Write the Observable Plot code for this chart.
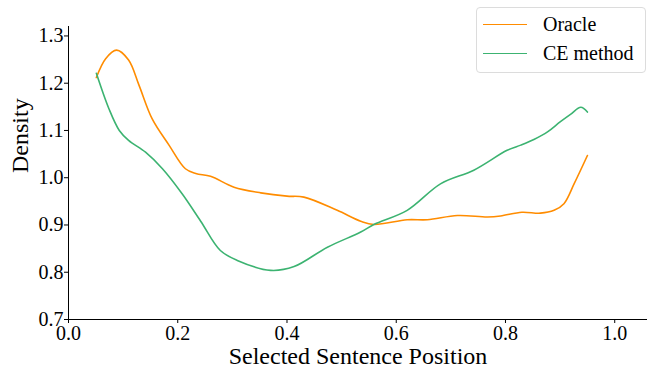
<!DOCTYPE html>
<html>
<head>
<meta charset="utf-8">
<script src="https://cdn.jsdelivr.net/npm/d3@7"></script>
<script src="https://cdn.jsdelivr.net/npm/@observablehq/plot@0.6"></script>
<style>
  html, body { margin: 0; padding: 0; background: #fff; }
  #wrap { position: relative; width: 648px; height: 368px; font-family: "Liberation Serif", "Times New Roman", serif; }
  #plot svg, #plot svg text { font-family: "Liberation Serif", "Times New Roman", serif !important; }
  #legend { position: absolute; left: 476px; top: 7px; width: 170px; height: 66px; border: 1px solid #dcdcdc; border-radius: 4px; background: rgba(255,255,255,0.8); box-sizing: border-box; }
  .item { position: absolute; left: 0; height: 24px; display: flex; align-items: center; font-size: 20px; color: #000; }
  .item .sw { width: 44px; height: 0; border-top: 1.5px solid; margin-left: 6px; margin-right: 16px; }
</style>
</head>
<body>
<div id="wrap">
  <div id="plot"></div>
  <div id="legend"></div>
</div>
<script>
const seriesNames = ["Oracle", "CE method"];
const seriesColors = ["#ff8c00", "#3cb371"];

const oracleX = [0.051, 0.068, 0.088, 0.110, 0.129, 0.153, 0.184, 0.214, 0.233, 0.260, 0.303, 0.352, 0.400, 0.431, 0.492, 0.535, 0.559, 0.620, 0.657, 0.712, 0.767, 0.791, 0.830, 0.864, 0.889, 0.907, 0.926, 0.950];
const oracleY = [1.212, 1.252, 1.270, 1.249, 1.196, 1.125, 1.069, 1.019, 1.009, 1.003, 0.980, 0.968, 0.961, 0.959, 0.931, 0.908, 0.901, 0.911, 0.911, 0.920, 0.917, 0.919, 0.927, 0.925, 0.931, 0.945, 0.988, 1.047];

const ceX = [0.051, 0.074, 0.093, 0.110, 0.141, 0.172, 0.208, 0.242, 0.278, 0.309, 0.370, 0.413, 0.474, 0.535, 0.559, 0.620, 0.681, 0.742, 0.803, 0.828, 0.852, 0.877, 0.900, 0.919, 0.938, 0.950];
const ceY = [1.221, 1.146, 1.100, 1.079, 1.054, 1.019, 0.966, 0.908, 0.846, 0.825, 0.804, 0.812, 0.853, 0.885, 0.901, 0.931, 0.987, 1.016, 1.058, 1.069, 1.081, 1.097, 1.118, 1.134, 1.149, 1.139];

const xTicks = [0.0, 0.2, 0.4, 0.6, 0.8, 1.0];
const yTicks = [0.7, 0.8, 0.9, 1.0, 1.1, 1.2, 1.3];

const oracle = oracleX.map((x, i) => ({x, y: oracleY[i], s: seriesNames[0]}));
const ce = ceX.map((x, i) => ({x, y: ceY[i], s: seriesNames[1]}));

const chart = Plot.plot({
  width: 648,
  height: 368,
  marginLeft: 68,
  marginRight: 1,
  marginTop: 26,
  marginBottom: 49,
  style: { fontFamily: "'Liberation Serif', 'Times New Roman', serif", background: "#fff", color: "#000" },
  x: { domain: [0, 1.06] },
  y: { domain: [0.7, 1.32] },
  marks: [
    Plot.axisX({ ticks: xTicks, tickFormat: d3.format(".1f"), fontSize: 20, tickSize: 4, tickPadding: 2, label: null }),
    Plot.axisY({ ticks: yTicks, tickFormat: d3.format(".1f"), fontSize: 20, tickSize: 4, tickPadding: 1, label: null }),
    Plot.ruleX([0], { stroke: "#000", strokeWidth: 1 }),
    Plot.ruleY([0.7], { stroke: "#000", strokeWidth: 1 }),
    Plot.line(oracle, { x: "x", y: "y", stroke: seriesColors[0], strokeWidth: 1.6, curve: "catmull-rom" }),
    Plot.line(ce, { x: "x", y: "y", stroke: seriesColors[1], strokeWidth: 1.6, curve: "catmull-rom" }),
    Plot.text(["Density"], { frameAnchor: "left", dx: -48, rotate: -90, fontSize: 24, fill: "#000" }),
    Plot.text(["Selected Sentence Position"], { frameAnchor: "bottom", lineAnchor: "middle", dy: 37, fontSize: 24, fill: "#000" })
  ]
});
document.getElementById("plot").appendChild(chart);

const legend = document.getElementById("legend");
seriesNames.forEach((name, i) => {
  const it = document.createElement("div");
  it.className = "item";
  it.style.top = (4 + i * 29) + "px";
  const sw = document.createElement("span");
  sw.className = "sw";
  sw.style.borderColor = seriesColors[i];
  const t = document.createElement("span");
  t.textContent = name;
  it.appendChild(sw);
  it.appendChild(t);
  legend.appendChild(it);
});
</script>
</body>
</html>
